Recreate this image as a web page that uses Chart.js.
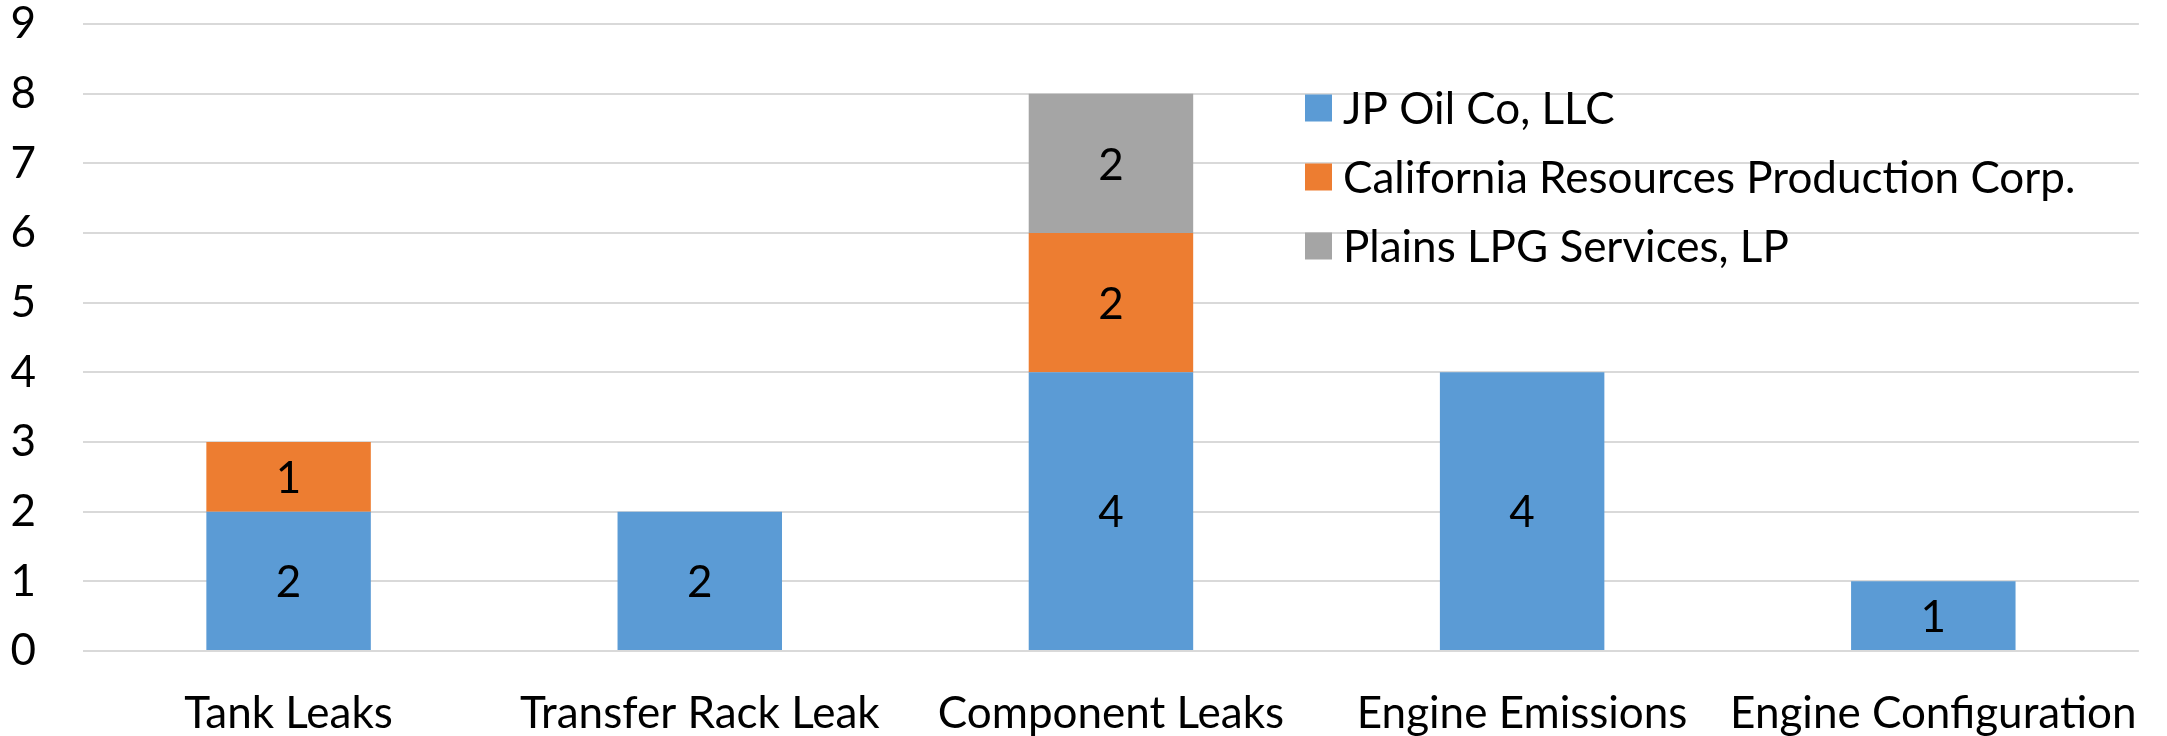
<!DOCTYPE html>
<html>
<head>
<meta charset="utf-8">
<script src="https://cdn.jsdelivr.net/npm/chart.js@4.4.1/dist/chart.umd.min.js"></script>
<style>
  html, body { margin: 0; padding: 0; background: #fff; }
  #wrap { width: 2167px; height: 736px; }
</style>
</head>
<body>
<div id="wrap"><canvas id="bar-chart" width="2167" height="736"></canvas></div>
<script>
const categories = ["Tank Leaks", "Transfer Rack Leak", "Component Leaks", "Engine Emissions", "Engine Configuration"];
const seriesNames = ["JP Oil Co, LLC", "California Resources Production Corp.", "Plains LPG Services, LP"];
const jpOil = [2, 2, 4, 4, 1];
const californiaResources = [1, null, 2, null, null];
const plainsLpg = [null, null, 2, null, null];
const yTicks = [0, 1, 2, 3, 4, 5, 6, 7, 8, 9];
const colors = ["#5B9BD5", "#ED7D31", "#A5A5A5"];

const FONT = "Lato, 'Open Sans', sans-serif";
const FONT_SIZE = 44;

// numbers inside the bars
const barLabels = {
  id: "barLabels",
  afterDatasetsDraw(chart) {
    const ctx = chart.ctx;
    ctx.save();
    ctx.font = FONT_SIZE + "px " + FONT;
    ctx.fillStyle = "#000";
    ctx.textAlign = "center";
    ctx.textBaseline = "middle";
    chart.data.datasets.forEach((ds, i) => {
      const meta = chart.getDatasetMeta(i);
      meta.data.forEach((bar, j) => {
        const v = ds.data[j];
        if (v === null || v === 0) return;
        const p = bar.getProps(["x", "y", "base"], true);
        ctx.fillText(String(v), p.x, (p.y + p.base) / 2 + 2);
      });
    });
    ctx.restore();
  }
};

// legend sitting inside the plot, like the original
const insideLegend = {
  id: "insideLegend",
  afterDraw(chart) {
    const ctx = chart.ctx;
    const area = chart.chartArea;
    const x0 = area.left + 1222;
    const y0 = area.top + 84;
    const step = 69;
    ctx.save();
    ctx.font = FONT_SIZE + "px " + FONT;
    ctx.textBaseline = "middle";
    ctx.textAlign = "left";
    chart.data.datasets.forEach((ds, i) => {
      const cy = y0 + i * step;
      ctx.fillStyle = ds.backgroundColor;
      ctx.fillRect(x0, cy - 13.5, 27, 27);
      ctx.fillStyle = "#000";
      ctx.fillText(ds.label, x0 + 38, cy + 2);
    });
    ctx.restore();
  }
};

const config = {
  type: "bar",
  data: {
    labels: categories,
    datasets: [
      { label: seriesNames[0], data: jpOil, backgroundColor: colors[0] },
      { label: seriesNames[1], data: californiaResources, backgroundColor: colors[1] },
      { label: seriesNames[2], data: plainsLpg, backgroundColor: colors[2] }
    ]
  },
  options: {
    responsive: false,
    animation: false,
    layout: { padding: { left: 0, right: 25, top: 0, bottom: 0 } },
    datasets: {
      bar: { categoryPercentage: 1.0, barPercentage: 0.4, borderWidth: 0 }
    },
    plugins: {
      legend: { display: false },
      tooltip: { enabled: false }
    },
    scales: {
      x: {
        stacked: true,
        grid: { display: false },
        border: { display: false },
        ticks: {
          color: "#000",
          font: { family: FONT, size: FONT_SIZE },
          padding: 28,
          maxRotation: 0,
          autoSkip: false
        },
        afterFit: (scale) => { scale.height = 85; }
      },
      y: {
        stacked: true,
        min: 0,
        max: 9,
        afterBuildTicks: (scale) => { scale.ticks = yTicks.map((v) => ({ value: v })); },
        grid: { color: "#D9D9D9", lineWidth: 2, drawTicks: false },
        border: { display: false },
        ticks: {
          color: "#000",
          font: { family: FONT, size: FONT_SIZE },
          padding: 47
        },
        afterFit: (scale) => {
          scale.width = 83;
          // tick padding is for the horizontal gap only
          scale.paddingTop = 24;
          scale.paddingBottom = 0;
        }
      }
    }
  },
  plugins: [barLabels, insideLegend]
};

new Chart("bar-chart", config);
</script>
</body>
</html>
